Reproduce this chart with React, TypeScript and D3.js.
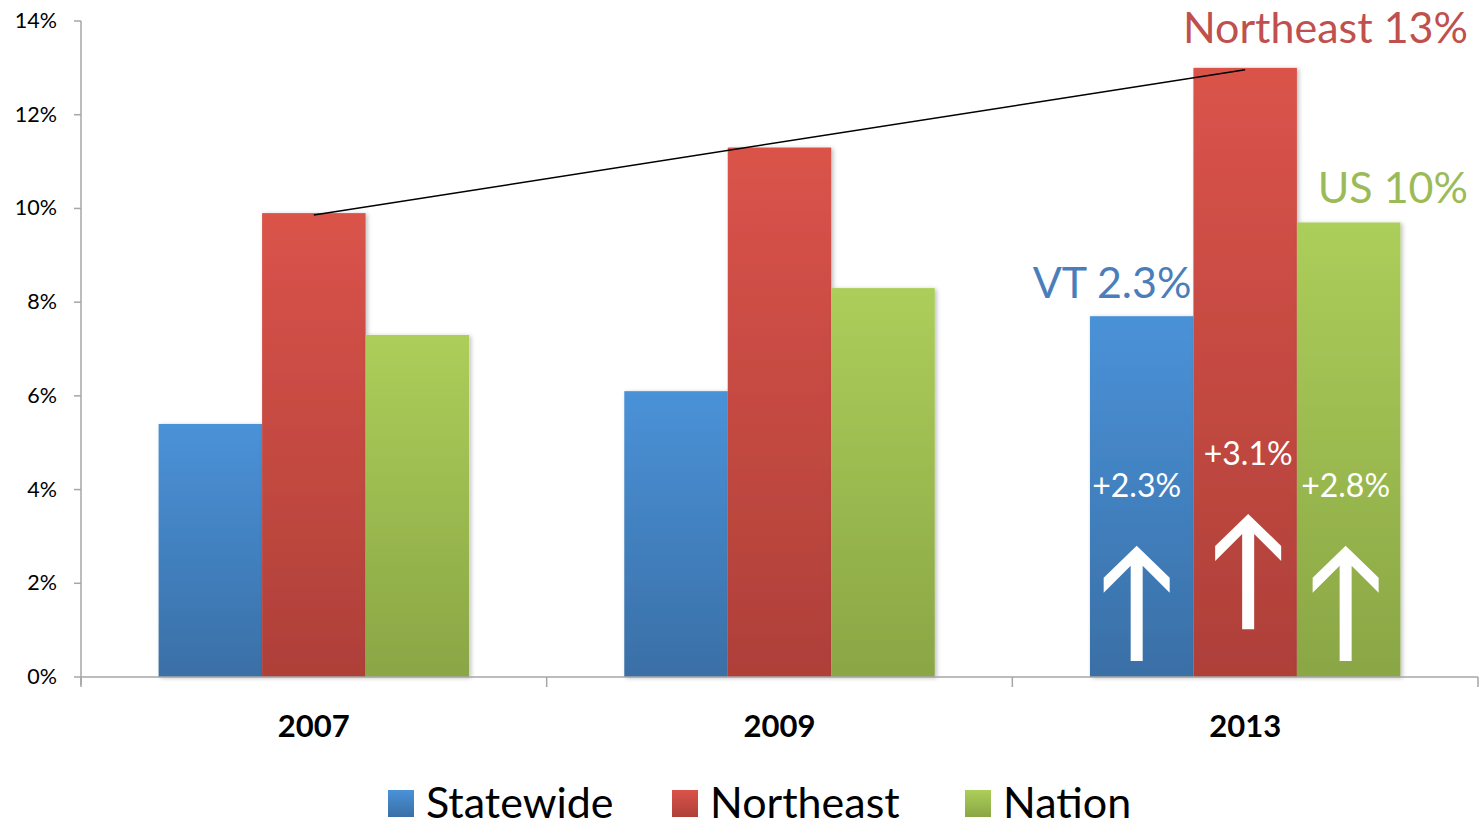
import React from "react";
import * as d3 from "d3";

// chart values
const years = ["2007", "2009", "2013"];
const seriesNames = ["Statewide", "Northeast", "Nation"];
const statewide = [5.4, 6.1, 7.7];
const northeast = [9.9, 11.3, 13.0];
const nation = [7.3, 8.3, 9.7];
const yTicks = [0, 2, 4, 6, 8, 10, 12, 14];

// 2013 change annotations (white text + arrows inside the bars)
const changeLabels = ["+2.3%", "+3.1%", "+2.8%"];
const changeLabelY = [3.84, 4.52, 3.84];
const arrowTip = [2.8, 3.48, 2.8];
const arrowBase = [0.34, 1.02, 0.34];
const annotShift = [-5, 3, -3];

// callouts above the 2013 bars
const callouts = [
  { text: "VT 2.3%", value: 8.09, color: "#4a7ebb" },
  { text: "Northeast 13%", value: 13.53, color: "#c0504d" },
  { text: "US 10%", value: 10.11, color: "#9bbb59" },
];

const gradients = [
  { id: "gBlue", top: "#4a92d8", bottom: "#3a6fa6" },
  { id: "gRed", top: "#da534a", bottom: "#ae4039" },
  { id: "gGreen", top: "#acce5a", bottom: "#8aa645" },
];

const W = 1481;
const H = 827;
const FONT = "Lato, 'Open Sans', sans-serif";

export default function App() {
  const values = [statewide, northeast, nation];

  const x = d3.scaleBand().domain(years).range([81, 1478]).paddingInner(0).paddingOuter(0);
  const x1 = d3
    .scaleBand()
    .domain(seriesNames)
    .range([0, x.bandwidth()])
    .paddingInner(0)
    .paddingOuter(0.75);
  const y = d3.scaleLinear().domain([0, 14]).range([677, 21]);

  const last = years[years.length - 1];
  const arrowPath = (cx: number, tip: number, base: number) => {
    const p = d3.path();
    p.moveTo(cx, tip);
    p.lineTo(cx + 33, tip + 32);
    p.lineTo(cx + 33, tip + 47);
    p.lineTo(cx + 6, tip + 20);
    p.lineTo(cx + 6, base);
    p.lineTo(cx - 6, base);
    p.lineTo(cx - 6, tip + 20);
    p.lineTo(cx - 33, tip + 47);
    p.lineTo(cx - 33, tip + 32);
    p.closePath();
    return p.toString();
  };

  const neCenter = (i: number) => (x(years[i]) ?? 0) + (x1("Northeast") ?? 0) + x1.bandwidth() / 2;
  const trend = d3.line<number>()
    .x((d) => neCenter(d))
    .y((d) => y(northeast[d] - 0.04));

  const legendX = [388, 672, 965];

  return (
    <svg width={W} height={H} style={{ position: "absolute", left: 0, top: 0 }}>
      <defs>
        {gradients.map((g) => (
          <linearGradient key={g.id} id={g.id} x1="0" y1="0" x2="0" y2="1">
            <stop offset="0%" stopColor={g.top} />
            <stop offset="100%" stopColor={g.bottom} />
          </linearGradient>
        ))}
        <filter id="shadow" x="-10%" y="-10%" width="130%" height="130%">
          <feDropShadow dx="2" dy="1" stdDeviation="2" floodColor="#000" floodOpacity="0.25" />
        </filter>
      </defs>
      <rect width={W} height={H} fill="#fff" />

      {/* bars */}
      {years.map((yr, i) => (
        <g key={yr} transform={`translate(${x(yr)},0)`}>
          {seriesNames.map((s, j) => (
            <rect
              key={s}
              x={x1(s)}
              y={y(values[j][i])}
              width={x1.bandwidth()}
              height={y(0) - y(values[j][i])}
              fill={`url(#${gradients[j].id})`}
              filter="url(#shadow)"
            />
          ))}
        </g>
      ))}

      {/* axes */}
      <g stroke="#a6a6a6" strokeWidth={1.5} fill="none">
        <line x1={81} x2={81} y1={y(14)} y2={y(0) + 8} />
        <line x1={81} x2={1478} y1={y(0)} y2={y(0)} />
        {yTicks.map((t) => (
          <line key={t} x1={74} x2={81} y1={y(t)} y2={y(t)} />
        ))}
        {[...years.map((yr) => x(yr) ?? 0), 1478].map((bx, i) => (
          <line key={i} x1={bx} x2={bx} y1={y(0)} y2={y(0) + 10} />
        ))}
      </g>
      {yTicks.map((t) => (
        <text key={t} x={57} y={y(t) + 7} textAnchor="end" fontFamily={FONT} fontSize={21.5} fill="#000">
          {`${t}%`}
        </text>
      ))}
      {years.map((yr) => (
        <text
          key={yr}
          x={(x(yr) ?? 0) + x.bandwidth() / 2}
          y={737}
          textAnchor="middle"
          fontFamily={FONT}
          fontWeight="bold"
          fontSize={31}
          fill="#000"
        >
          {yr}
        </text>
      ))}

      {/* trend line across the Northeast bars */}
      <path d={trend([0, years.length - 1]) ?? ""} stroke="#000" strokeWidth={1.5} fill="none" />

      {/* 2013 change arrows and labels */}
      {seriesNames.map((s, j) => {
        const cx = (x(last) ?? 0) + (x1(s) ?? 0) + x1.bandwidth() / 2 + annotShift[j];
        return (
          <g key={s}>
            <path d={arrowPath(cx, y(arrowTip[j]), y(arrowBase[j]))} fill="#fff" />
            <text x={cx} y={y(changeLabelY[j])} textAnchor="middle" fontFamily={FONT} fontSize={32} fill="#fff">
              {changeLabels[j]}
            </text>
          </g>
        );
      })}

      {/* callouts */}
      {callouts.map((c, j) => {
        const right =
          j === 0 ? (x(last) ?? 0) + (x1(seriesNames[0]) ?? 0) + x1.bandwidth() - 2 : 1468;
        return (
          <text key={c.text} x={right} y={y(c.value)} textAnchor="end" fontFamily={FONT} fontSize={43} fill={c.color}>
            {c.text}
          </text>
        );
      })}

      {/* legend */}
      {seriesNames.map((s, j) => (
        <g key={s}>
          <rect x={legendX[j]} y={790} width={26} height={27} fill={`url(#${gradients[j].id})`} />
          <text x={legendX[j] + 38} y={818} fontFamily={FONT} fontSize={43} fill="#000">
            {s}
          </text>
        </g>
      ))}
    </svg>
  );
}
